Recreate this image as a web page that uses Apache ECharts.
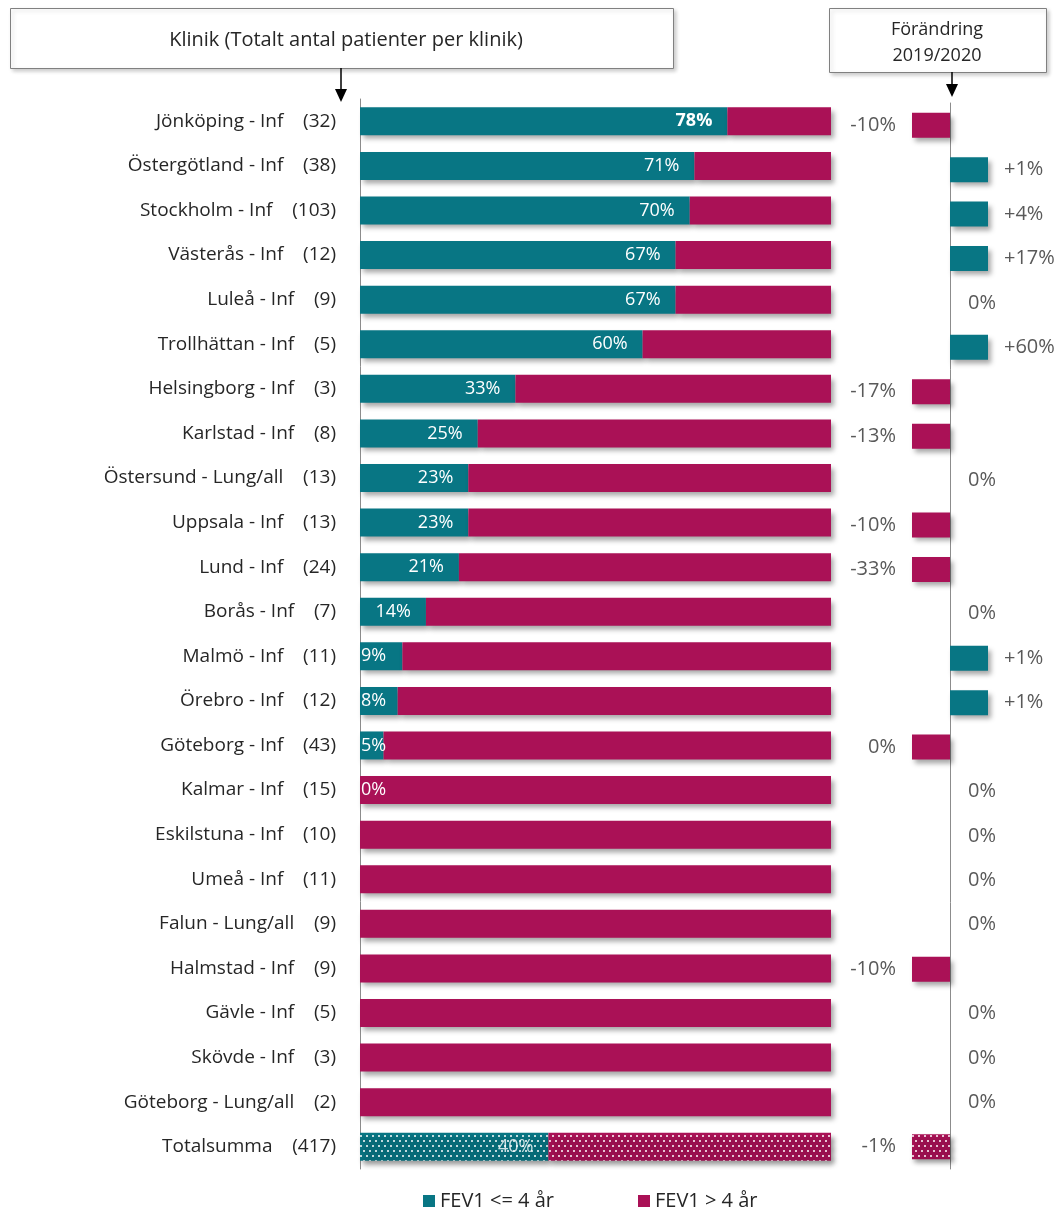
<!DOCTYPE html>
<html>
<head>
<meta charset="utf-8">
<script src="https://cdn.jsdelivr.net/npm/echarts@6/dist/echarts.min.js"></script>
<style>
html,body{margin:0;padding:0;background:#fff;}
#main{width:1062px;height:1215px;}
</style>
</head>
<body>
<div id="main"></div>
<script>
const clinics = ['Jönköping - Inf','Östergötland - Inf','Stockholm - Inf','Västerås - Inf','Luleå - Inf','Trollhättan - Inf','Helsingborg - Inf','Karlstad - Inf','Östersund - Lung/all','Uppsala - Inf','Lund - Inf','Borås - Inf','Malmö - Inf','Örebro - Inf','Göteborg - Inf','Kalmar - Inf','Eskilstuna - Inf','Umeå - Inf','Falun - Lung/all','Halmstad - Inf','Gävle - Inf','Skövde - Inf','Göteborg - Lung/all','Totalsumma'];
const patients = [32,38,103,12,9,5,3,8,13,13,24,7,11,12,43,15,10,11,9,9,5,3,2,417];
const fevLe4 = [78,71,70,67,67,60,33,25,23,23,21,14,9,8,5,0,0,0,0,0,0,0,0,40];
const fevGt4 = [22,29,30,33,33,40,67,75,77,77,79,86,91,92,95,100,100,100,100,100,100,100,100,60];
const fevLe4Labels = ['78%','71%','70%','67%','67%','60%','33%','25%','23%','23%','21%','14%','9%','8%','5%','0%','','','','','','','','40%'];
const change = [-10,1,4,17,0,60,-17,-13,0,-10,-33,0,1,1,-0.3,0,0,0,0,-10,0,0,0,-1];
const legendNames = ['FEV1 <= 4 år','FEV1 > 4 år'];

const TEAL = '#087684';
const MAG = '#aa1156';
const FONT = '"Open Sans"';
const shadow = {shadowColor:'rgba(0,0,0,0.35)', shadowBlur:5, shadowOffsetX:3, shadowOffsetY:4};
const dots = {symbol:'rect', symbolSize:1, color:'rgba(255,255,255,0.75)', dashArrayX:[[2,4],[0,3,2,1]], dashArrayY:[2,3]};
const last = clinics.length - 1;

const leData = fevLe4.map((v,i)=>{
  const item = {value:v, label:{}};
  if (!fevLe4Labels[i]) item.label.show = false;
  if (v < 10) { item.label.position = 'insideLeft'; item.label.distance = 1; }
  if (i === 0) item.label.fontWeight = 'bold';
  if (i === last) { item.itemStyle = {decal: dots}; item.label.color = 'rgba(255,255,255,0.8)'; }
  return item;
});
const gtData = fevGt4.map((v,i)=> i === last ? {value:v, itemStyle:{decal:dots}} : v);

function fmtChange(v){
  const r = Math.round(v);
  if (r === 0) return '0%';
  return (r > 0 ? '+' : '') + r + '%';
}
const chData = change.map((v,i)=>{
  const item = {
    value: v,
    itemStyle: {color: v < 0 ? MAG : TEAL},
    label: {position: v < 0 ? 'left' : 'right', distance: v === 0 ? 18 : 16}
  };
  if (i === last) item.itemStyle.decal = dots;
  return item;
});

const chart = echarts.init(document.getElementById('main'), null, {renderer:'canvas'});
chart.setOption({
  animation:false,
  textStyle:{fontFamily:FONT},
  grid:[
    {left:360, top:99, width:471, height:1070},
    {left:912, top:103, width:76, height:1066}
  ],
  xAxis:[
    {gridIndex:0, type:'value', min:0, max:100, show:false},
    {gridIndex:1, type:'value', min:-0.2, max:0.2, show:false}
  ],
  yAxis:[
    {gridIndex:0, type:'category', data:clinics, inverse:true,
      axisLine:{show:true, lineStyle:{color:'#8c8c8c', width:1}},
      axisTick:{show:false},
      axisLabel:{margin:24, fontSize:19, color:'#262626', fontFamily:FONT,
        formatter:(val, idx)=> val + '    (' + patients[idx] + ')'}
    },
    {gridIndex:1, type:'category', data:clinics, inverse:true,
      axisLine:{show:true, onZero:true, lineStyle:{color:'#8c8c8c', width:1}},
      axisTick:{show:false}, axisLabel:{show:false}
    }
  ],
  legend:{
    data:legendNames, left:418, top:1186, itemWidth:12, itemHeight:12, itemGap:84,
    icon:'rect', textStyle:{fontSize:20, color:'#262626', fontFamily:FONT}
  },
  series:[
    {name:legendNames[0], type:'bar', stack:'a', xAxisIndex:0, yAxisIndex:0, barWidth:28,
      itemStyle:Object.assign({color:TEAL}, shadow),
      label:{show:true, position:'insideRight', distance:15, color:'#fff', fontSize:18, fontFamily:FONT,
        formatter:(p)=>fevLe4Labels[p.dataIndex]},
      data:leData},
    {name:legendNames[1], type:'bar', stack:'a', xAxisIndex:0, yAxisIndex:0, barWidth:28,
      itemStyle:Object.assign({color:MAG}, shadow),
      data:gtData},
    {name:'Förändring', type:'bar', xAxisIndex:1, yAxisIndex:1, barWidth:25, clip:true,
      itemStyle:shadow,
      label:{show:true, color:'#595959', fontSize:20, fontFamily:FONT,
        formatter:(p)=>fmtChange(p.value)},
      data:chData}
  ],
  graphic:[
    {type:'rect', shape:{x:10.5, y:8.5, width:663, height:60},
      style:{fill:'#fff', stroke:'#808080', lineWidth:1, shadowBlur:4, shadowColor:'rgba(0,0,0,0.2)', shadowOffsetX:2, shadowOffsetY:2}},
    {type:'text', x:346, y:40, style:{text:'Klinik (Totalt antal patienter per klinik)', fontSize:20, fontFamily:FONT, fill:'#262626', align:'center', verticalAlign:'middle'}},
    {type:'line', shape:{x1:341, y1:68, x2:341, y2:92}, style:{stroke:'#000', lineWidth:1.5}},
    {type:'polygon', shape:{points:[[335,89],[347,89],[341,102]]}, style:{fill:'#000'}},
    {type:'rect', shape:{x:829.5, y:8.5, width:217, height:64},
      style:{fill:'#fff', stroke:'#808080', lineWidth:1, shadowBlur:4, shadowColor:'rgba(0,0,0,0.2)', shadowOffsetX:2, shadowOffsetY:2}},
    {type:'text', x:937, y:30, style:{text:'Förändring', fontSize:18, fontFamily:FONT, fill:'#262626', align:'center', verticalAlign:'middle'}},
    {type:'text', x:937, y:56, style:{text:'2019/2020', fontSize:18, fontFamily:FONT, fill:'#262626', align:'center', verticalAlign:'middle'}},
    {type:'line', shape:{x1:952, y1:72, x2:952, y2:87}, style:{stroke:'#000', lineWidth:1.5}},
    {type:'polygon', shape:{points:[[946,84],[958,84],[952,97]]}, style:{fill:'#000'}}
  ]
});
</script>
</body>
</html>
